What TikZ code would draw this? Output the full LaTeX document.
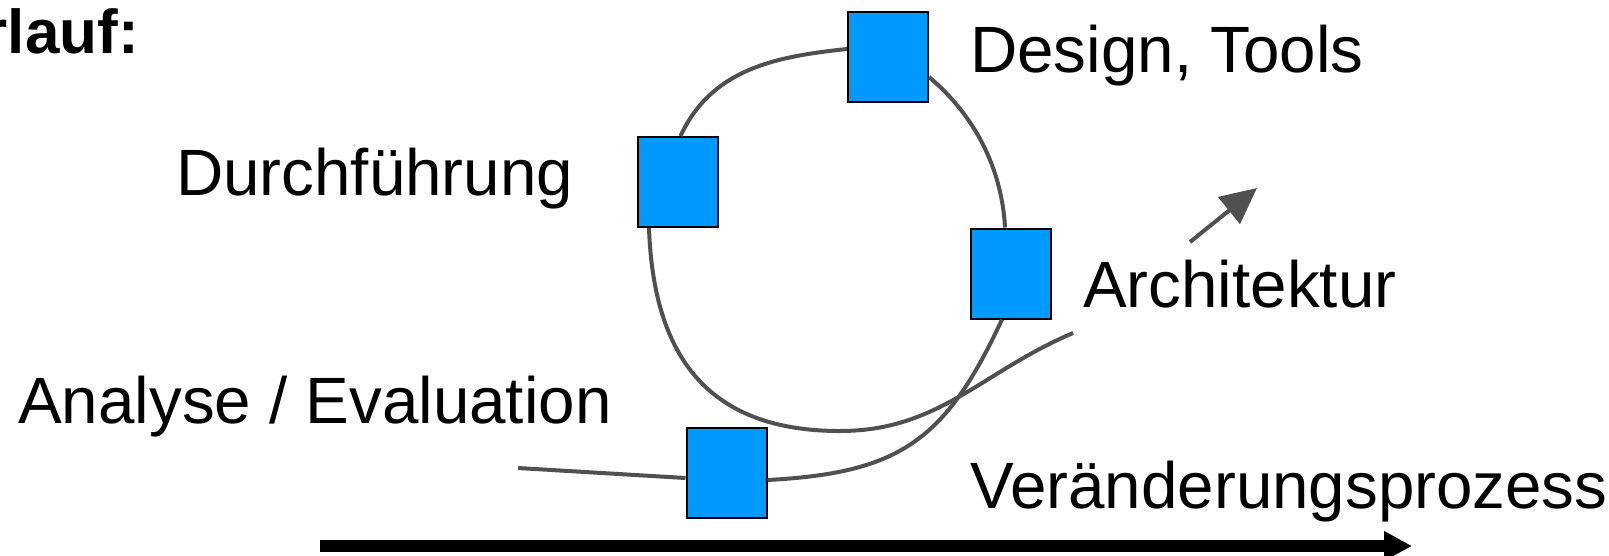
\documentclass[tikz,border=0pt]{standalone}
\usepackage{fontspec}
\setmainfont{Liberation Sans}
\usetikzlibrary{arrows.meta}
\definecolor{boxblue}{RGB}{0,153,255}
\definecolor{loopgray}{RGB}{80,80,80}

\begin{document}
\begin{tikzpicture}[x=1pt, y=1pt,
  stage/.style={rectangle, draw=black, line width=2pt, fill=boxblue, minimum width=80pt, minimum height=90pt, inner sep=0pt},
  lbl/.style={anchor=base west, inner sep=0pt, font=\fontsize{65.5}{78}\selectfont},
  cycleline/.style={draw=loopgray, line width=4pt}]
  \useasboundingbox (0,0) rectangle (1609,-555);
  \node[anchor=base east, inner sep=0pt, font=\fontsize{62}{74}\selectfont\bfseries] (title) at (139,-53) {rlauf:};
  \node[stage] (design) at (888,-57) {};
  \node[stage] (durch) at (677.5,-182) {};
  \node[stage] (arch) at (1011,-273.5) {};
  \node[stage] (ana) at (726.5,-473) {};
  \node[lbl] (designlbl) at (970,-72) {Design, Tools};
  \node[lbl] (durchlbl) at (176,-195) {Durchführung};
  \node[lbl] (archlbl) at (1083,-307) {Architektur};
  \node[lbl] (analbl) at (18,-423) {Analyse / Evaluation};
  \node[lbl] (proclbl) at (970,-508) {Veränderungsprozess};
  \coordinate (start) at (518,-468);
  \coordinate (bottom) at (840,-431);
  \coordinate (tail) at (1073,-333);
  \coordinate (arrowfrom) at (1190,-242);
  \coordinate (arrowto) at (1257,-188);
  \coordinate (procfrom) at (320,-546);
  \coordinate (procto) at (1412,-546);
  % the loop through the four stages
  \draw[cycleline] (start) -- ([yshift=-5pt]ana.west);
  \draw[cycleline] ([yshift=-7pt]ana.east) to[out=3, in=245, looseness=1.2] ([xshift=-9pt]arch.south);
  \draw[cycleline] ([xshift=-6pt]arch.north) to[out=93, in=-40, looseness=0.9] ([yshift=-20pt]design.east);
  \draw[cycleline] ([yshift=8pt]design.west) to[out=186, in=65] ([xshift=3pt]durch.north);
  \draw[cycleline] ([xshift=-28.5pt]durch.south) to[out=-88, in=180, looseness=1.2] (bottom) to[out=0, in=203] (tail);
  \draw[cycleline, -{Triangle[length=36pt, width=34pt]}] (arrowfrom) -- (arrowto);
  \draw[line width=12pt, -{Triangle[length=28pt, width=28pt]}] (procfrom) -- (procto);
\end{tikzpicture}
\end{document}
